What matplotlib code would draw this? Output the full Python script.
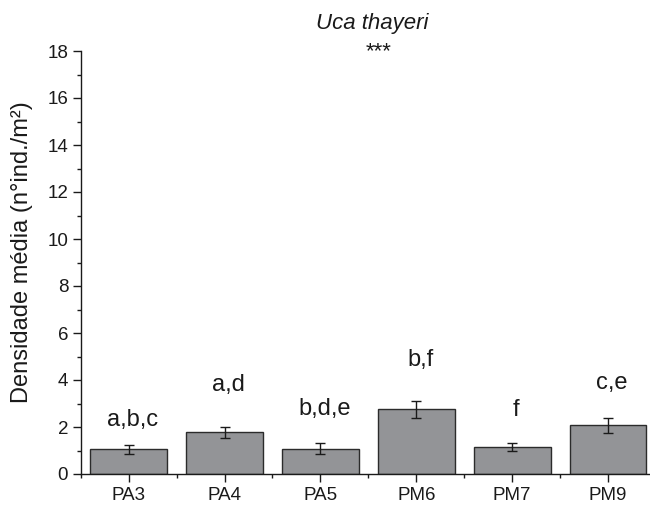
import matplotlib
matplotlib.use("Agg")
import matplotlib.pyplot as plt
from matplotlib.ticker import MultipleLocator

plt.rcParams['font.family'] = ['Liberation Sans', 'DejaVu Sans']

categories = ["PA3", "PA4", "PA5", "PM6", "PM7", "PM9"]
means = [1.05, 1.77, 1.07, 2.76, 1.16, 2.07]
errors = [0.18, 0.24, 0.23, 0.36, 0.18, 0.33]
letters = ["a,b,c", "a,d", "b,d,e", "b,f", "f", "c,e"]
letter_y = [2.3, 3.8, 2.78, 4.85, 2.73, 3.88]

fig = plt.figure(figsize=(6.5, 5.05), dpi=100)
ax = fig.add_axes([80.7/650, 1 - 474/505, (656 - 80.7)/650, (474 - 51)/505])

x = list(range(len(categories)))
ax.bar(x, means, width=0.8, color="#939497", edgecolor="#2b2b2b", linewidth=1.0, zorder=2)
ax.errorbar(x, means, yerr=errors, fmt="none", ecolor="#1a1a1a", elinewidth=1.0,
            capsize=3.5, capthick=1.0, zorder=3)
for xi, lab, ly in zip(x, letters, letter_y):
    ax.text(xi + 0.04, ly, lab, ha="center", va="center", fontsize=17, color="#1a1a1a")

ax.set_xlim(-0.5, 5.5)
ax.set_ylim(0, 18)
ax.set_xticks(x)
ax.set_xticklabels(categories)
ax.xaxis.set_minor_locator(MultipleLocator(1, offset=0.5))
ax.yaxis.set_major_locator(MultipleLocator(2))
ax.yaxis.set_minor_locator(MultipleLocator(1))
for s in ["top", "right"]:
    ax.spines[s].set_visible(False)
for s in ["left", "bottom"]:
    ax.spines[s].set_linewidth(1.0)
    ax.spines[s].set_color("#1a1a1a")
ax.tick_params(axis="both", which="major", direction="out", length=6, width=1.0,
               labelsize=13.5, colors="#1a1a1a", pad=3)
ax.tick_params(axis="both", which="minor", direction="out", length=3, width=1.0, colors="#1a1a1a")

fig.text(22/650, 1 - 252/505, "Densidade média (n°ind./m²)", rotation=90, ha="center",
         va="center", fontsize=17, color="#1a1a1a")
fig.text(372/650, 1 - 23/505, "Uca thayeri", ha="center", va="center", fontsize=16,
         style="italic", color="#1a1a1a")
fig.text(379/650, 1 - 52/505, "***", ha="center", va="center", fontsize=16, color="#1a1a1a")

fig.savefig("out.png", dpi=100)
